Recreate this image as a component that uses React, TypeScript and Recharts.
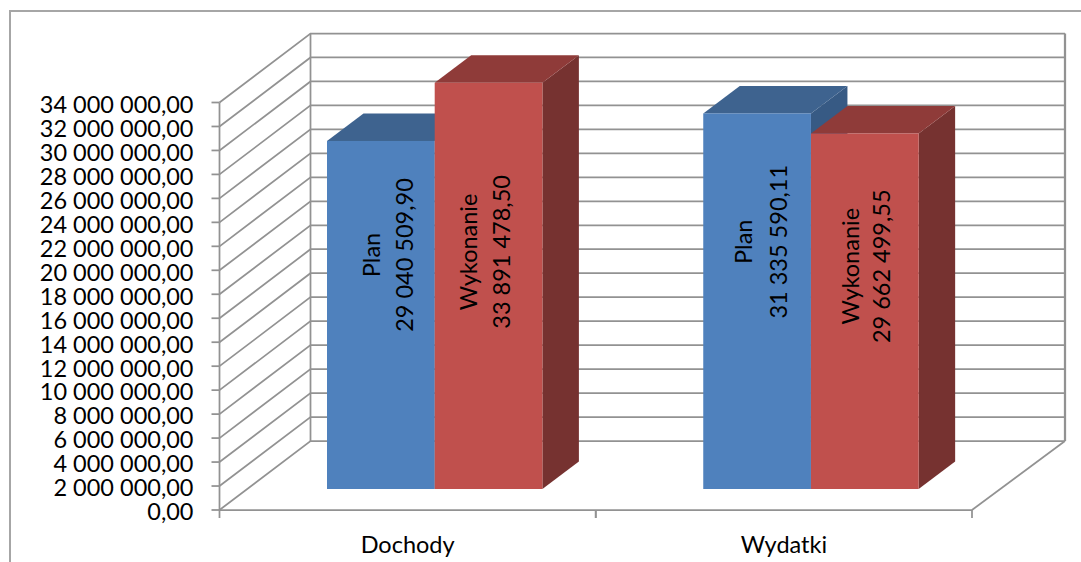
import { BarChart, Bar, XAxis, YAxis, CartesianGrid, LabelList } from 'recharts'

// Data
const categories = ['Dochody', 'Wydatki']
const planValues = [29040509.9, 31335590.11]
const wykonanieValues = [33891478.5, 29662499.55]
const yTicks = [
  0, 2000000, 4000000, 6000000, 8000000, 10000000, 12000000, 14000000, 16000000, 18000000,
  20000000, 22000000, 24000000, 26000000, 28000000, 30000000, 32000000, 34000000,
]

const tableData = categories.map((name, i) => ({
  name,
  plan: planValues[i],
  wykonanie: wykonanieValues[i],
}))

// Layout of the fake 3D box
const WIDTH = 1081
const HEIGHT = 562
const PLOT_LEFT = 219.5
const PLOT_RIGHT = 972
const PLOT_TOP = 102.5
const PLOT_BOTTOM = 510
const WALL_DX = 91
const WALL_DX_RIGHT = 93
const WALL_DY = 69
const BAR_DX = 27.5
const BAR_DY = 21
const DEPTH_DX = 36.5
const DEPTH_DY = 27.5
const GRID_COLOR = '#929292'
const GRID_WIDTH = 1.75
const FONT = 'Lato, sans-serif'
const FONT_SIZE = 23.5

// Label placement per bar: how far above the bar's middle, and the two baselines from its centre
const planLabelLayout = [
  { rise: 60, line1: -1, line2: 31.7 },
  { rise: 59.5, line1: -5, line2: 29.7 },
]
const wykonanieLabelLayout = [
  { rise: 34, line1: -12, line2: 21 },
  { rise: 45, line1: -6, line2: 25.7 },
]

const formatValue = (v: number) => {
  const [whole, dec] = v.toFixed(2).split('.')
  return `${whole.replace(/\B(?=(\d{3})+(?!\d))/g, ' ')},${dec}`
}

// ── Gridline that runs along the side wall and the back wall ──
function WallLine(props: any) {
  const { x1, x2, y1 } = props
  const isFloor = Math.abs(y1 - PLOT_BOTTOM) < 1
  const backY = y1 - WALL_DY
  return (
    <g fill="none" stroke={GRID_COLOR} strokeWidth={GRID_WIDTH}>
      <polyline points={`${x1},${y1} ${x1 + WALL_DX},${backY} ${x2 + WALL_DX_RIGHT},${backY}`} />
      {isFloor && (
        <>
          <line x1={x1} y1={y1} x2={x2} y2={y1} />
          <line x1={x2} y1={y1} x2={x2 + WALL_DX_RIGHT} y2={backY} />
          <line x1={x1 + WALL_DX} y1={backY} x2={x1 + WALL_DX} y2={PLOT_TOP - WALL_DY} />
          <line x1={x2 + WALL_DX_RIGHT} y1={backY} x2={x2 + WALL_DX_RIGHT} y2={PLOT_TOP - WALL_DY} strokeWidth={2.25} />
        </>
      )}
    </g>
  )
}

// ── Box-shaped bar ──
function BoxBar(props: any) {
  const { x, y, width, height, fill, topFill, sideFill } = props
  const l = x + BAR_DX
  const r = l + width
  const t = y - BAR_DY
  const b = t + height
  return (
    <g>
      <polygon points={`${r},${t} ${r + DEPTH_DX},${t - DEPTH_DY} ${r + DEPTH_DX},${b - DEPTH_DY} ${r},${b}`} fill={sideFill} />
      <polygon points={`${l},${t} ${l + DEPTH_DX},${t - DEPTH_DY} ${r + DEPTH_DX},${t - DEPTH_DY} ${r},${t}`} fill={topFill} />
      <rect x={l} y={t} width={width} height={height} fill={fill} />
    </g>
  )
}

// ── Two-line rotated label inside a bar ──
function barLabel(seriesName: string, layout: { rise: number; line1: number; line2: number }[]) {
  return function BarLabel(props: any) {
    const { x, y, width, height, value, index } = props
    const { rise, line1, line2 } = layout[index]
    const cx = x + BAR_DX + width / 2
    const cy = y - BAR_DY + height / 2 - rise
    const textProps = { textAnchor: 'middle' as const, fontFamily: FONT, fontSize: FONT_SIZE, fill: '#000' }
    return (
      <g>
        <text transform={`rotate(-90 ${cx + line1} ${cy})`} x={cx + line1} y={cy} {...textProps}>
          {seriesName}
        </text>
        <text transform={`rotate(-90 ${cx + line2} ${cy})`} x={cx + line2} y={cy} {...textProps}>
          {formatValue(value)}
        </text>
      </g>
    )
  }
}

function CategoryTick(props: any) {
  const { x, payload } = props
  const band = (PLOT_RIGHT - PLOT_LEFT) / categories.length
  return (
    <g>
      <line x1={x - band / 2} y1={PLOT_BOTTOM} x2={x - band / 2} y2={PLOT_BOTTOM + 8} stroke={GRID_COLOR} strokeWidth={GRID_WIDTH} />
      <line x1={x + band / 2} y1={PLOT_BOTTOM} x2={x + band / 2} y2={PLOT_BOTTOM + 8} stroke={GRID_COLOR} strokeWidth={GRID_WIDTH} />
      <text x={x} y={553} textAnchor="middle" fontFamily={FONT} fontSize={FONT_SIZE} fill="#000">
        {payload.value}
      </text>
    </g>
  )
}

export default function App() {
  return (
    <div style={{ position: 'absolute', left: 0, top: 0, width: WIDTH, height: HEIGHT, background: '#fff', overflow: 'hidden' }}>
      <div
        style={{
          position: 'absolute', left: 9, top: 10, right: 0, bottom: 0,
          borderLeft: '2px solid #a6a6a6', borderTop: '2px solid #a6a6a6',
        }}
      />
      <div style={{ position: 'absolute', left: 0, top: 0 }}>
        <BarChart
          width={WIDTH}
          height={HEIGHT}
          data={tableData}
          barGap={0}
          barSize={107.7}
          margin={{ top: PLOT_TOP, right: WIDTH - PLOT_RIGHT, bottom: 0, left: 0 }}
        >
          <CartesianGrid vertical={false} horizontal={(p: any) => <WallLine key={p.key} {...p} />} />
          <XAxis
            dataKey="name"
            height={HEIGHT - PLOT_BOTTOM}
            axisLine={false}
            tickLine={false}
            tick={<CategoryTick />}
            interval={0}
          />
          <YAxis
            width={PLOT_LEFT}
            domain={[0, 34000000]}
            ticks={yTicks}
            interval={0}
            tickFormatter={formatValue}
            tickSize={8}
            tickMargin={18}
            dy={2}
            stroke={GRID_COLOR}
            strokeWidth={GRID_WIDTH}
            tick={{ fill: '#000', fontFamily: FONT, fontSize: FONT_SIZE }}
          />
          <Bar
            dataKey="plan"
            fill="#4F81BD"
            isAnimationActive={false}
            shape={(p: any) => <BoxBar {...p} topFill="#3E638F" sideFill="#375A84" />}
          >
            <LabelList dataKey="plan" content={barLabel('Plan', planLabelLayout)} />
          </Bar>
          <Bar
            dataKey="wykonanie"
            fill="#C0504D"
            isAnimationActive={false}
            shape={(p: any) => <BoxBar {...p} topFill="#8F3B39" sideFill="#763230" />}
          >
            <LabelList dataKey="wykonanie" content={barLabel('Wykonanie', wykonanieLabelLayout)} />
          </Bar>
        </BarChart>
      </div>
    </div>
  )
}
